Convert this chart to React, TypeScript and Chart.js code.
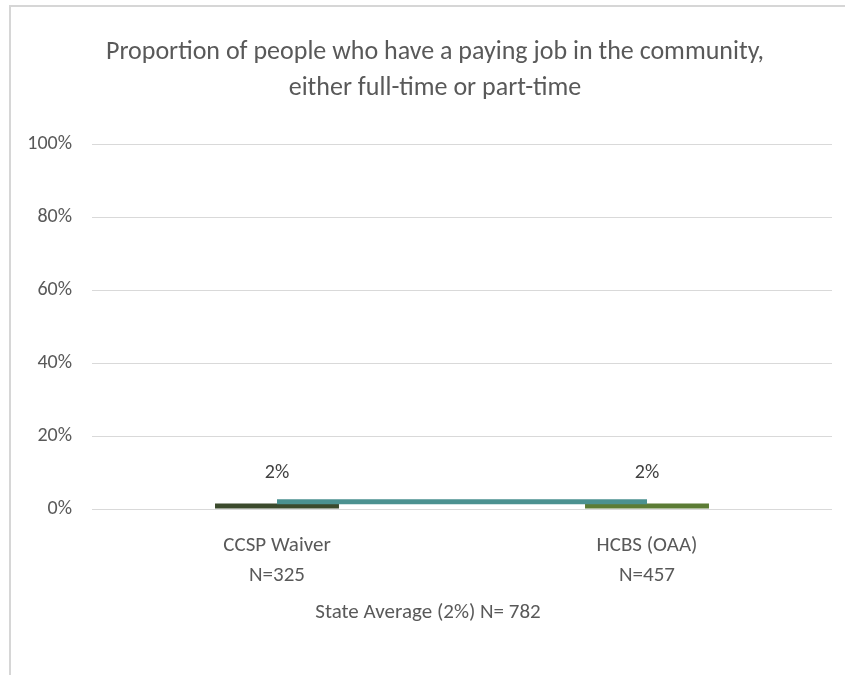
import React, { useEffect, useRef } from "react";
import { Chart, registerables } from "chart.js";

Chart.register(...registerables);

const categories: string[][] = [
  ["CCSP Waiver", "N=325"],
  ["HCBS (OAA)", "N=457"],
];
const barValues: number[] = [1.5, 1.5];
const barColors: string[] = ["#3b4a2c", "#5c7c35"];
const stateAverage: number[] = [2, 2];
const stateAverageLabel = "State Average (2%) N= 782";
const titleLines: string[] = [
  "Proportion of people who have a paying job in the community,",
  "either full-time or part-time",
];
const yMin = 0;
const yMax = 100;
const yStep = 20;

const FONT = 'Carlito, "Liberation Sans Narrow", Lato, sans-serif';
const TEXT = "#595959";

const extraText = {
  id: "extraText",
  afterDatasetsDraw(chart: any) {
    const ctx = chart.ctx;
    const meta = chart.getDatasetMeta(1);
    ctx.save();
    ctx.textAlign = "center";
    ctx.textBaseline = "middle";
    // data labels
    ctx.fillStyle = "#404040";
    ctx.font = `20px ${FONT}`;
    meta.data.forEach((bar: any, i: number) => {
      ctx.fillText(Math.round(barValues[i]) + "%", bar.x, bar.y - 31);
    });
    // x-axis caption
    const xs = chart.scales.x;
    ctx.fillStyle = TEXT;
    ctx.font = `21px ${FONT}`;
    ctx.fillText(stateAverageLabel, xs.left + 336, xs.bottom - 62);
    // chart title
    ctx.font = `26px ${FONT}`;
    titleLines.forEach((line, i) => {
      ctx.fillText(line, 435, 52 + i * 36);
    });
    ctx.restore();
  },
};

export default function App() {
  const ref = useRef<HTMLCanvasElement>(null);
  useEffect(() => {
    if (!ref.current) return;
    const chart = new Chart(ref.current, {
      type: "bar",
      data: {
        labels: categories as any,
        datasets: [
          {
            type: "line",
            label: "State Average",
            data: stateAverage,
            borderColor: "#4b9190",
            borderWidth: 5,
            pointRadius: 0,
            borderCapStyle: "butt",
            order: 0,
          } as any,
          {
            type: "bar",
            label: "Proportion",
            data: barValues,
            backgroundColor: barColors,
            barPercentage: 0.335,
            categoryPercentage: 1,
            order: 1,
          },
        ],
      },
      options: {
        responsive: false,
        animation: false,
        layout: { padding: { left: 10, right: 13, top: 144, bottom: 0 } },
        plugins: {
          legend: { display: false },
          tooltip: { enabled: false },
          title: { display: false },
        },
        scales: {
          x: {
            offset: true,
            grid: { display: false, drawTicks: false },
            border: { display: false },
            ticks: {
              color: TEXT,
              padding: 22,
              maxRotation: 0,
              font: { family: FONT, size: 21, lineHeight: "30px" } as any,
            },
            afterFit: (s: any) => {
              s.height = 166;
            },
          },
          y: {
            min: yMin,
            max: yMax,
            grid: { color: "#d9d9d9", drawTicks: false },
            border: { display: false },
            ticks: {
              stepSize: yStep,
              color: TEXT,
              padding: 20,
              font: { family: FONT, size: 20 },
              callback: (v: any) => v + "%",
            },
            afterFit: (s: any) => {
              s.width = 82;
            },
          },
        },
      },
      plugins: [extraText],
    });
    return () => chart.destroy();
  }, []);
  return (
    <div style={{ position: "absolute", left: 0, top: 0, width: 845, height: 675, background: "#fff" }}>
      <canvas ref={ref} width={845} height={675} style={{ width: 845, height: 675, display: "block" }} />
      <div
        style={{
          position: "absolute",
          left: 9,
          top: 5,
          width: 836,
          height: 670,
          borderTop: "2px solid #d6d6d6",
          borderLeft: "2px solid #d6d6d6",
          pointerEvents: "none",
        }}
      />
    </div>
  );
}
